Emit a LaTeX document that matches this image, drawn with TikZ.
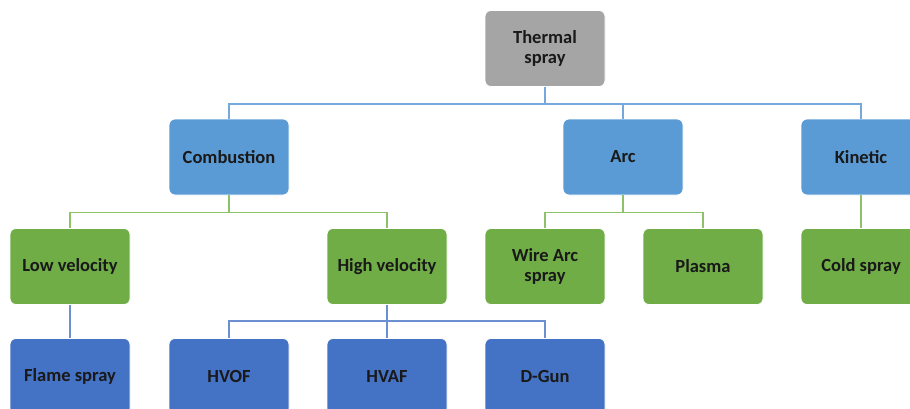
\documentclass[tikz,border=0pt]{standalone}
\usepackage{fontspec}
\setmainfont{Carlito}
\usepackage{xcolor}
\usetikzlibrary{positioning, calc}

\definecolor{rootgray}{HTML}{A5A5A5}
\definecolor{catblue}{HTML}{5B9BD5}
\definecolor{subgreen}{HTML}{70AD47}
\definecolor{leafblue}{HTML}{4472C4}
\definecolor{linkblue}{HTML}{75A9DC}
\definecolor{linkgreen}{HTML}{8DC26A}
\definecolor{linkdark}{HTML}{6C8FD2}

\begin{document}
\begin{tikzpicture}[x=1pt, y=1pt,
    every node/.style={rounded corners=6pt, draw=white, line width=0.8pt,
        minimum width=120pt, minimum height=76pt, align=center,
        font=\fontsize{18.5}{20}\selectfont\bfseries, text=black!90},
    rootbox/.style={fill=rootgray},
    catbox/.style={fill=catblue},
    subbox/.style={fill=subgreen},
    leafbox/.style={fill=leafblue},
    link/.style={line width=1.3pt}]
    \useasboundingbox (0,0) rectangle (910,-408);

    % root
    \node[rootbox] (thermal) at (545,-48.5) {Thermal\\spray};

    % processes
    \node[catbox] (comb) at (229,-157) {Combustion};
    \node[catbox] (arc) at (623,-157) {Arc};
    \node[catbox] (kin) at (861,-157) {Kinetic};

    % second level
    \node[subbox] (low) at (70,-266.5) {Low velocity};
    \node[subbox] (high) at (387,-266.5) {High velocity};
    \node[subbox] (wire) at (545,-266.5) {Wire Arc\\spray};
    \node[subbox] (plasma) at (703,-266.5) {Plasma};
    \node[subbox] (cold) at (861,-266.5) {Cold spray};

    % third level
    \node[leafbox] (flame) at (70,-376.5) {Flame spray};
    \node[leafbox] (hvof) at (229,-376.5) {HVOF};
    \node[leafbox] (hvaf) at (387,-376.5) {HVAF};
    \node[leafbox] (dgun) at (545,-376.5) {D-Gun};

    % connectors
    \draw[link, linkblue] (thermal.south) -- ++(0,-17) coordinate (bus1);
    \foreach \n in {comb, arc, kin}
        \draw[link, linkblue] (bus1) -| (\n.north);
    \draw[link, linkgreen] (comb.south) -- ++(0,-17) coordinate (bus2);
    \foreach \n in {low, high}
        \draw[link, linkgreen] (bus2) -| (\n.north);
    \draw[link, linkgreen] (arc.south) -- ++(0,-17) coordinate (bus3);
    \foreach \n in {wire, plasma}
        \draw[link, linkgreen] (bus3) -| (\n.north);
    \draw[link, linkgreen] (kin.south) -- (cold.north);
    \draw[link, linkdark] (low.south) -- (flame.north);
    \draw[link, linkdark] (high.south) -- ++(0,-16) coordinate (bus4);
    \foreach \n in {hvof, hvaf, dgun}
        \draw[link, linkdark] (bus4) -| (\n.north);
\end{tikzpicture}
\end{document}
